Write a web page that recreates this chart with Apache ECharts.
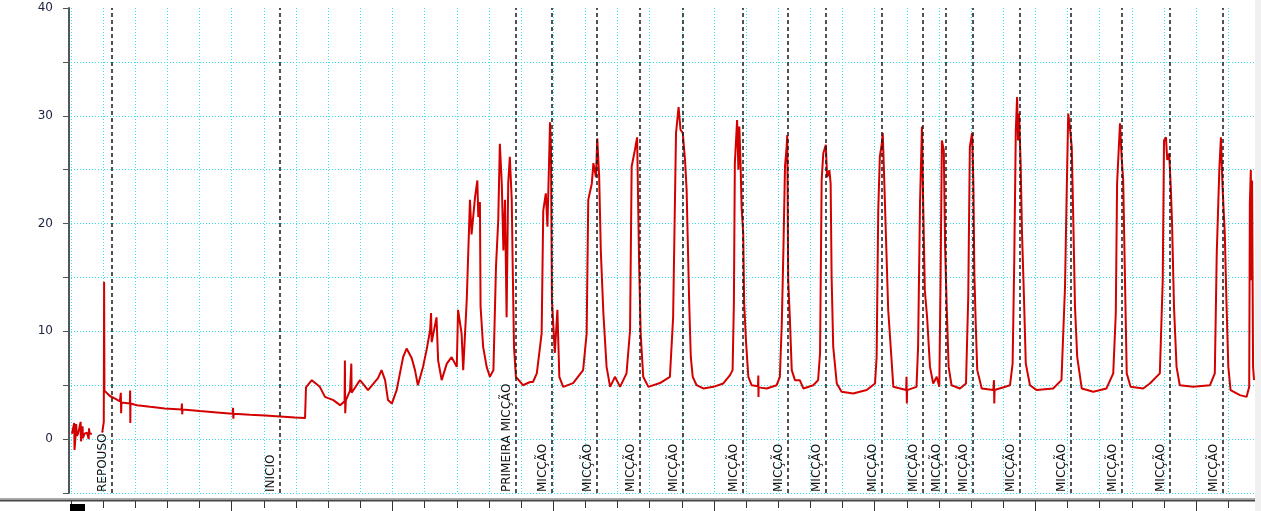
<!DOCTYPE html>
<html><head><meta charset="utf-8">
<script src="https://cdn.jsdelivr.net/npm/echarts@6/dist/echarts.min.js"></script>
<style>html,body{margin:0;padding:0;background:#fff}#c{width:1261px;height:511px}</style>
</head><body><div id="c"></div>
<script>
// time (arbitrary units, one grid division = 1)
const t = [0.03,0.08,0.10,0.11,0.15,0.16,0.18,0.22,0.28,0.30,0.31,0.35,0.36,0.37,0.42,0.50,0.55,0.56,0.58,0.62,0.65,
0.80,
0.97,1.00,1.02,1.03,1.04,1.21,1.40,1.52,1.55,1.56,1.57,1.83,1.84,1.845,1.85,2.05,2.46,2.92,3.44,3.45,3.46,3.47,4.01,4.63,5.03,5.04,5.05,5.06,5.57,6.03,6.50,6.97,7.28,
7.31,7.49,7.74,7.90,8.16,8.37,8.51,8.52,8.53,8.55,8.68,8.71,8.72,8.73,8.99,9.24,9.55,9.66,9.77,9.86,9.98,10.13,10.33,10.44,10.60,10.70,10.79,10.95,11.06,11.17,11.20,11.22,11.26,11.37,11.42,11.53,11.69,11.84,12.00,12.04,12.15,12.20,12.31,12.41,12.46,12.57,12.64,12.67,12.72,12.74,12.82,12.93,13.03,13.14,13.22,13.29,13.34,13.40,13.45,13.50,13.55,13.60,13.65,13.71,13.74,13.78,13.84,14.06,14.28,14.37,14.49,
14.64,14.69,14.77,14.82,14.88,14.90,14.93,14.96,15.05,15.13,15.19,15.31,15.62,15.93,16.04,16.09,16.20,16.25,16.33,16.37,16.43,16.48,16.56,16.66,16.77,16.92,17.08,17.28,17.39,17.44,17.54,17.61,17.67,17.72,17.80,17.96,18.32,18.63,18.73,18.82,18.90,18.96,19.03,19.10,19.15,19.18,19.23,19.28,19.34,19.46,
19.67,19.98,20.29,20.50,20.58,20.62,20.65,20.72,20.76,20.79,20.83,20.86,20.91,20.94,21.00,21.07,21.17,21.37,21.38,21.385,21.39,21.64,21.95,22.05,22.11,22.16,22.21,22.26,22.28,22.31,22.36,22.42,22.52,22.67,22.78,23.09,23.24,23.30,23.35,23.40,23.48,23.52,23.59,23.63,23.66,23.71,23.82,23.97,24.33,24.75,25.01,25.06,25.11,25.16,25.22,25.25,25.29,25.35,25.42,25.47,25.58,25.98,25.99,26.00,26.01,26.30,26.35,26.41,26.47,26.51,26.56,26.63,26.72,26.82,26.93,27.01,27.05,27.09,27.15,27.19,27.24,27.30,27.39,27.65,27.84,27.91,27.96,28.03,28.07,28.10,28.14,28.19,28.33,
28.69,28.71,28.72,28.73,29.21,29.29,29.34,29.39,29.43,29.46,29.49,29.54,29.58,29.64,29.70,29.83,30.04,30.55,30.81,30.92,30.97,31.02,31.07,31.13,31.18,31.23,31.30,31.44,31.80,32.21,32.42,32.50,32.54,32.63,32.68,32.73,32.78,32.84,32.96,33.35,33.56,33.87,33.96,34.00,34.06,34.10,34.16,34.21,34.25,34.31,34.39,34.49,34.91,35.43,35.58,35.64,35.72,35.77,35.82,35.89,35.94,36.00,36.07,36.36,36.57,36.65,36.67,36.70,36.72,36.74,36.77,36.80];
// pressure values (null = no signal)
const v = [0.5,0.4,1.5,-1.0,0.6,1.4,0.3,0.5,0.6,1.6,-0.2,0.5,1.2,0.1,0.5,0.6,0.0,1.0,0.5,0.6,0.5,
null,
0.6,1.2,1.6,14.6,4.5,4.0,3.7,3.5,4.3,2.4,3.4,3.3,4.5,1.5,3.3,3.15,3.0,2.85,2.75,3.3,2.3,2.75,2.6,2.45,2.35,2.9,1.9,2.35,2.25,2.2,2.1,2.0,1.95,
4.8,5.47,4.85,3.92,3.62,3.15,3.5,7.3,2.4,3.6,4.5,4.6,7.0,4.3,5.47,4.55,5.66,6.4,5.47,3.62,3.3,4.55,7.6,8.4,7.5,6.4,5.0,6.7,8.26,10.1,11.7,9.0,8.9,11.3,7.3,5.47,7.0,7.6,6.7,12.0,9.8,6.4,12.9,22.2,19.0,22.5,24.0,20.6,22.0,12.3,8.56,6.7,5.78,6.4,16.0,20.3,27.4,23.7,17.5,22.2,11.3,23.7,26.2,22.2,16.0,8.56,5.78,5.0,5.3,5.3,6.1,
9.8,21.2,22.8,19.7,26.8,29.4,26.8,12.9,8.0,12.0,5.78,4.85,5.2,6.4,9.8,22.2,23.7,25.6,24.3,27.9,24.3,17.5,11.7,6.7,4.85,5.78,4.85,6.1,10.1,25.3,26.8,28.0,16.6,9.8,5.78,4.85,5.2,5.78,11.3,28.4,30.8,28.7,28.4,25.9,23.1,19.1,12.6,7.6,5.78,5.0,
4.7,4.85,5.16,5.94,6.4,12.6,25.6,29.6,25.0,29.0,25.3,21.5,19.1,12.6,8.9,5.78,5.0,4.9,5.9,3.9,4.8,4.7,5.0,5.78,10.7,17.5,25.3,27.1,28.2,14.75,11.3,6.4,5.47,5.47,4.7,5.0,5.47,7.95,24.0,26.5,27.3,24.3,24.95,23.7,15.06,8.56,5.16,4.39,4.24,4.55,5.16,7.6,21.2,26.2,27.4,28.4,24.7,18.8,12.0,9.8,4.85,4.55,5.78,3.3,4.55,4.85,8.56,21.9,29.0,21.5,13.8,11.3,6.7,5.16,5.78,4.85,15.06,27.7,26.8,17.8,12.3,6.7,5.0,4.7,5.16,13.2,27.1,28.4,23.7,15.4,11.0,6.4,4.7,
4.55,5.47,3.3,4.55,5.0,7.0,16.3,28.7,31.75,27.7,30.2,25.6,19.4,13.5,7.0,5.0,4.55,4.7,5.47,14.1,22.5,30.2,29.0,27.1,20.0,12.3,7.6,4.7,4.39,4.7,6.1,11.7,23.7,29.3,26.2,24.0,15.7,6.1,4.85,4.7,5.16,6.1,14.75,27.7,28.0,25.9,26.5,23.4,20.0,12.3,6.7,5.0,4.85,5.0,6.1,17.2,25.0,28.0,23.4,19.1,12.9,6.7,4.55,4.08,3.92,4.85,21.9,25.0,14.75,24.0,6.7,5.47];
const eventTimes = [1.27,6.50,13.83,14.95,16.35,17.70,19.02,20.91,22.31,23.48,25.22,26.51,27.22,28.05,29.51,31.09,32.68,34.18,35.82];
const eventLabels = ['REPOUSO','INICIO','PRIMEIRA MICÇÃO','MICÇÃO','MICÇÃO','MICÇÃO','MICÇÃO','MICÇÃO','MICÇÃO','MICÇÃO','MICÇÃO','MICÇÃO','MICÇÃO','MICÇÃO','MICÇÃO','MICÇÃO','MICÇÃO','MICÇÃO','MICÇÃO'];
const yTickLabels = ['0','10','20','30','40'];

const data = t.map((x, i) => [x, v[i]]);
const gridCol = '#2fe6ee';
const chart = echarts.init(document.getElementById('c'), null, {renderer: 'canvas'});
chart.setOption({
  animation: false,
  backgroundColor: '#fff',
  grid: {left: 71, right: 6, top: 8, bottom: 18},
  xAxis: [
    {type: 'value', min: 0, max: 36.83, interval: 1, position: 'bottom', offset: 8,
     axisLine: {show: false, onZero: false},
     axisTick: {show: true, length: 7, lineStyle: {color: '#333', width: 1}},
     axisLabel: {show: false},
     splitLine: {show: true, showMaxLine: false, lineStyle: {color: gridCol, type: [1, 2], width: 1}}},
    {type: 'value', min: 0, max: 36.83, interval: 5, position: 'bottom', offset: 8,
     axisLine: {show: false, onZero: false},
     axisTick: {show: true, length: 11, lineStyle: {color: '#333', width: 1}},
     axisLabel: {show: false}, splitLine: {show: false}}
  ],
  yAxis: {type: 'value', min: -5, max: 40, interval: 5, offset: 2,
    axisLine: {show: true, onZero: false, lineStyle: {color: '#555', width: 2}},
    axisTick: {show: true, length: 6, lineStyle: {color: '#555', width: 1}},
    axisLabel: {margin: 16, color: '#1c2240', fontSize: 12, fontFamily: 'DejaVu Sans',
      formatter: val => yTickLabels.includes(String(val)) ? String(val) : ''},
    splitLine: {show: true, showMaxLine: false, lineStyle: {color: gridCol, type: [1, 2], width: 1}}
  },
  series: [{
    type: 'line', xAxisIndex: 0, data: data, showSymbol: false, connectNulls: false,
    lineStyle: {color: '#d40000', width: 2}, z: 2,
    markLine: {
      symbol: ['none', 'none'], silent: true, animation: false,
      lineStyle: {color: '#1a1a1a', type: [4, 3], width: 1.5},
      label: {show: true, position: 'insideStartTop', formatter: '{b}', distance: [1, 3],
        fontFamily: 'DejaVu Sans', fontSize: 12, color: '#111'},
      emphasis: {disabled: true},
      data: eventTimes.map((x, i) => ({xAxis: x, name: eventLabels[i]}))
    }
  }],
  graphic: [
    {type: 'line', shape: {x1: 0, y1: 498.5, x2: 1261, y2: 498.5}, style: {stroke: '#aaa', lineWidth: 1}, z: 50},
    {type: 'line', shape: {x1: 0, y1: 500.5, x2: 1261, y2: 500.5}, style: {stroke: '#444', lineWidth: 2}, z: 50},
    {type: 'rect', shape: {x: 70, y: 504, width: 15, height: 7}, style: {fill: '#000'}, z: 50},
    {type: 'rect', shape: {x: 1255, y: 0, width: 6, height: 511}, style: {fill: '#f0f0f0'}, z: 100}
  ]
});
</script></body></html>
